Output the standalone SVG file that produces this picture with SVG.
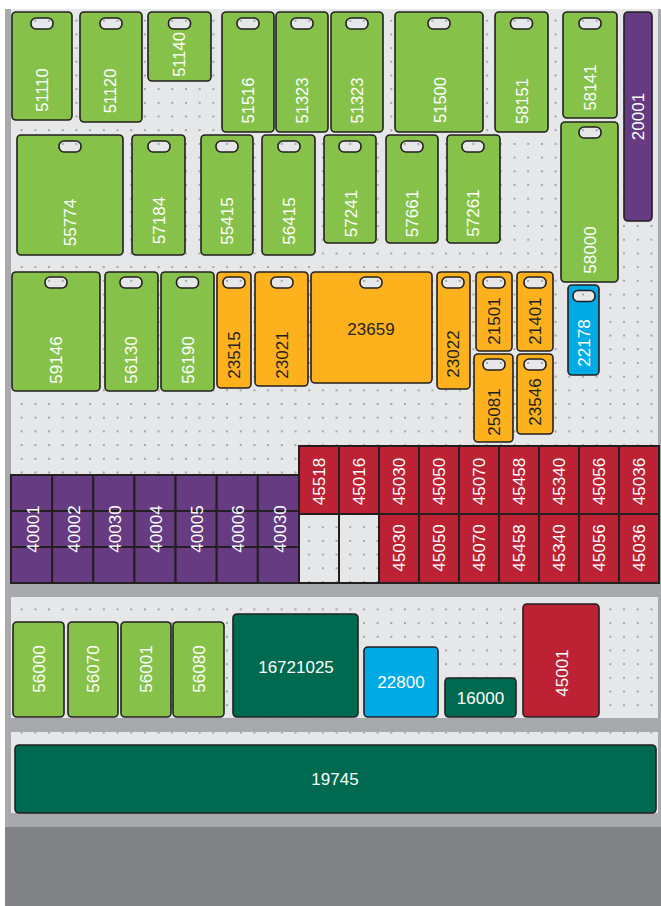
<svg xmlns="http://www.w3.org/2000/svg" width="661" height="906" viewBox="0 0 661 906">
<defs>
<pattern id="pegs" patternUnits="userSpaceOnUse" x="1.155" y="0.155" width="13.69" height="13.69">
<rect width="13.69" height="13.69" fill="#e6e7e8"/>
<circle cx="6.845" cy="6.845" r="1.1" fill="#939598"/>
</pattern>
</defs>
<style>
.b{stroke:#231f20;stroke-width:1.6}
.g{fill:#86c24a}
.o{fill:#fdb21d}
.r{fill:#bc2134}
.p{fill:#663b82}
.c{fill:#00aae4}
.d{fill:#006a50}
.h{fill:url(#pegs);stroke:#231f20;stroke-width:1.6}
.cell{stroke:#231f20;stroke-width:2}
text{font-family:"Liberation Sans",Arial,sans-serif;font-size:17px;fill:#fff;text-anchor:middle}
.s{font-size:16.5px}
.k{fill:#231f20}
</style>
<rect x="0" y="0" width="661" height="906" fill="#fff"/>
<rect x="5" y="9" width="656" height="818" fill="#a7a9ac"/>
<rect x="5" y="827" width="656" height="79" fill="#808285"/>
<rect x="11" y="9" width="647" height="574" fill="url(#pegs)"/>
<rect x="11" y="597" width="647" height="121" fill="url(#pegs)"/>
<rect x="11" y="732" width="647" height="81" fill="url(#pegs)"/>

<g id="n51110"><rect class="b g" x="12" y="12" width="60" height="108" rx="4"/><rect class="h" x="31" y="18" width="22" height="11" rx="5"/><text class="s" transform="translate(42.5,90) rotate(-90)" dy="0.36em">51110</text></g>
<g id="n51120"><rect class="b g" x="80" y="12" width="62" height="110" rx="4"/><rect class="h" x="100" y="18" width="22" height="11" rx="5"/><text class="s" transform="translate(110.5,91) rotate(-90)" dy="0.36em">51120</text></g>
<g id="n51140"><rect class="b g" x="148" y="12" width="63" height="69" rx="4"/><rect class="h" x="168.5" y="18" width="22" height="11" rx="5"/><text class="s" transform="translate(179.5,54.5) rotate(-90)" dy="0.36em">51140</text></g>
<g id="n51516"><rect class="b g" x="222" y="12" width="52" height="120" rx="4"/><rect class="h" x="237" y="18" width="22" height="11" rx="5"/><text class="s" transform="translate(248,100.5) rotate(-90)" dy="0.36em">51516</text></g>
<g id="n51323a"><rect class="b g" x="276" y="12" width="52" height="120" rx="4"/><rect class="h" x="291" y="18" width="22" height="11" rx="5"/><text class="s" transform="translate(302.5,100.5) rotate(-90)" dy="0.36em">51323</text></g>
<g id="n51323b"><rect class="b g" x="331" y="12" width="52" height="120" rx="4"/><rect class="h" x="346" y="18" width="22" height="11" rx="5"/><text class="s" transform="translate(357,100.5) rotate(-90)" dy="0.36em">51323</text></g>
<g id="n51500"><rect class="b g" x="395" y="12" width="88" height="120" rx="4"/><rect class="h" x="428" y="18" width="22" height="11" rx="5"/><text class="s" transform="translate(440,100) rotate(-90)" dy="0.36em">51500</text></g>
<g id="n58151"><rect class="b g" x="495" y="12" width="53" height="120" rx="4"/><rect class="h" x="510.5" y="18" width="22" height="11" rx="5"/><text class="s" transform="translate(522,101) rotate(-90)" dy="0.36em">58151</text></g>
<g id="n58141"><rect class="b g" x="563" y="12" width="54" height="106" rx="4"/><rect class="h" x="579" y="18" width="22" height="11" rx="5"/><text class="s" transform="translate(590,87.5) rotate(-90)" dy="0.36em">58141</text></g>
<g id="n20001"><rect class="b p" x="624" y="12" width="28" height="209" rx="4"/><text transform="translate(637.5,116.5) rotate(-90)" dy="0.36em">20001</text></g>

<g id="n55774"><rect class="b g" x="17" y="135" width="106" height="120" rx="4"/><rect class="h" x="59" y="141" width="22" height="11" rx="5"/><text transform="translate(70,222.5) rotate(-90)" dy="0.36em">55774</text></g>
<g id="n57184"><rect class="b g" x="132" y="135" width="53" height="120" rx="4"/><rect class="h" x="148" y="141" width="22" height="11" rx="5"/><text transform="translate(158.5,220.5) rotate(-90)" dy="0.36em">57184</text></g>
<g id="n55415"><rect class="b g" x="201" y="135" width="52" height="120" rx="4"/><rect class="h" x="216" y="141" width="22" height="11" rx="5"/><text transform="translate(227,221) rotate(-90)" dy="0.36em">55415</text></g>
<g id="n56415"><rect class="b g" x="262" y="135" width="53" height="120" rx="4"/><rect class="h" x="278" y="141" width="22" height="11" rx="5"/><text transform="translate(288.5,221) rotate(-90)" dy="0.36em">56415</text></g>
<g id="n57241"><rect class="b g" x="324" y="135" width="52" height="108" rx="4"/><rect class="h" x="339" y="141" width="22" height="11" rx="5"/><text transform="translate(350.5,213.5) rotate(-90)" dy="0.36em">57241</text></g>
<g id="n57661"><rect class="b g" x="386" y="135" width="52" height="108" rx="4"/><rect class="h" x="401" y="141" width="22" height="11" rx="5"/><text transform="translate(412,213.5) rotate(-90)" dy="0.36em">57661</text></g>
<g id="n57261"><rect class="b g" x="447" y="135" width="53" height="108" rx="4"/><rect class="h" x="462" y="141" width="22" height="11" rx="5"/><text transform="translate(473,213) rotate(-90)" dy="0.36em">57261</text></g>
<g id="n58000"><rect class="b g" x="561" y="122" width="57" height="160" rx="4"/><rect class="h" x="579" y="127" width="22" height="11" rx="5"/><text transform="translate(590,250) rotate(-90)" dy="0.36em">58000</text></g>

<g id="n59146"><rect class="b g" x="12" y="272" width="88" height="119" rx="4"/><rect class="h" x="45" y="277" width="22" height="11" rx="5"/><text transform="translate(56,360) rotate(-90)" dy="0.36em">59146</text></g>
<g id="n56130"><rect class="b g" x="105" y="272" width="53" height="119" rx="4"/><rect class="h" x="120" y="277" width="22" height="11" rx="5"/><text transform="translate(131,360) rotate(-90)" dy="0.36em">56130</text></g>
<g id="n56190"><rect class="b g" x="161" y="272" width="53" height="119" rx="4"/><rect class="h" x="176.5" y="277" width="22" height="11" rx="5"/><text transform="translate(187.5,360) rotate(-90)" dy="0.36em">56190</text></g>
<g id="n23515"><rect class="b o" x="217" y="272" width="34" height="116" rx="4"/><rect class="h" x="223" y="277" width="22" height="11" rx="5"/><text class="k" transform="translate(234,355) rotate(-90)" dy="0.36em">23515</text></g>
<g id="n23021"><rect class="b o" x="255" y="272" width="53" height="114" rx="4"/><rect class="h" x="271" y="277" width="22" height="11" rx="5"/><text class="k" transform="translate(282,355) rotate(-90)" dy="0.36em">23021</text></g>
<g id="n23659"><rect class="b o" x="311" y="272" width="121" height="111" rx="4"/><rect class="h" x="360" y="277" width="22" height="11" rx="5"/><text class="k" x="371" y="335">23659</text></g>
<g id="n23022"><rect class="b o" x="437" y="272" width="33" height="117" rx="4"/><rect class="h" x="442" y="277" width="22" height="11" rx="5"/><text class="k" transform="translate(453,354) rotate(-90)" dy="0.36em">23022</text></g>
<g id="n21501"><rect class="b o" x="476" y="272" width="36" height="79" rx="4"/><rect class="h" x="483" y="277" width="22" height="11" rx="5"/><text class="k" transform="translate(494,321) rotate(-90)" dy="0.36em">21501</text></g>
<g id="n21401"><rect class="b o" x="517" y="272" width="36" height="79" rx="4"/><rect class="h" x="524" y="277" width="22" height="11" rx="5"/><text class="k" transform="translate(535,321) rotate(-90)" dy="0.36em">21401</text></g>
<g id="n25081"><rect class="b o" x="474" y="354" width="39" height="88" rx="4"/><rect class="h" x="483" y="359" width="22" height="11" rx="5"/><text class="k" transform="translate(494,412) rotate(-90)" dy="0.36em">25081</text></g>
<g id="n23546"><rect class="b o" x="517" y="354" width="36" height="80" rx="4"/><rect class="h" x="524" y="359" width="22" height="11" rx="5"/><text class="k" transform="translate(535,402) rotate(-90)" dy="0.36em">23546</text></g>
<g id="n22178"><rect class="b c" x="568" y="285" width="31" height="90" rx="4"/><rect class="h" x="573" y="290.5" width="22" height="11" rx="5"/><text transform="translate(584,343) rotate(-90)" dy="0.36em">22178</text></g>

<g id="purple-grid">
<rect class="cell p" x="11" y="475" width="41.14" height="36"/><rect class="cell p" x="11" y="511" width="41.14" height="36"/><rect class="cell p" x="11" y="547" width="41.14" height="36"/>
<rect class="cell p" x="52.14" y="475" width="41.14" height="36"/><rect class="cell p" x="52.14" y="511" width="41.14" height="36"/><rect class="cell p" x="52.14" y="547" width="41.14" height="36"/>
<rect class="cell p" x="93.28" y="475" width="41.14" height="36"/><rect class="cell p" x="93.28" y="511" width="41.14" height="36"/><rect class="cell p" x="93.28" y="547" width="41.14" height="36"/>
<rect class="cell p" x="134.42" y="475" width="41.14" height="36"/><rect class="cell p" x="134.42" y="511" width="41.14" height="36"/><rect class="cell p" x="134.42" y="547" width="41.14" height="36"/>
<rect class="cell p" x="175.56" y="475" width="41.14" height="36"/><rect class="cell p" x="175.56" y="511" width="41.14" height="36"/><rect class="cell p" x="175.56" y="547" width="41.14" height="36"/>
<rect class="cell p" x="216.7" y="475" width="41.14" height="36"/><rect class="cell p" x="216.7" y="511" width="41.14" height="36"/><rect class="cell p" x="216.7" y="547" width="41.14" height="36"/>
<rect class="cell p" x="257.84" y="475" width="41.14" height="36"/><rect class="cell p" x="257.84" y="511" width="41.14" height="36"/><rect class="cell p" x="257.84" y="547" width="41.14" height="36"/>
</g>
<g id="n40001"><text transform="translate(32.6,529) rotate(-90)" dy="0.36em">40001</text></g>
<g id="n40002"><text transform="translate(73.7,529) rotate(-90)" dy="0.36em">40002</text></g>
<g id="n40030a"><text transform="translate(114.9,529) rotate(-90)" dy="0.36em">40030</text></g>
<g id="n40004"><text transform="translate(156,529) rotate(-90)" dy="0.36em">40004</text></g>
<g id="n40005"><text transform="translate(197.1,529) rotate(-90)" dy="0.36em">40005</text></g>
<g id="n40006"><text transform="translate(238.3,529) rotate(-90)" dy="0.36em">40006</text></g>
<g id="n40030b"><text transform="translate(279.4,529) rotate(-90)" dy="0.36em">40030</text></g>

<g id="red-grid-empty"><rect class="cell" fill="none" x="299" y="514" width="40" height="69"/><rect class="cell" fill="none" x="339" y="514" width="40" height="69"/></g>
<g id="n45518"><rect class="cell r" x="299" y="446" width="40" height="68"/><text transform="translate(319,481.5) rotate(-90)" dy="0.36em">45518</text></g>
<g id="n45016"><rect class="cell r" x="339" y="446" width="40" height="68"/><text transform="translate(359,481.5) rotate(-90)" dy="0.36em">45016</text></g>
<g id="n45030a"><rect class="cell r" x="379" y="446" width="40" height="68"/><text transform="translate(399,481.5) rotate(-90)" dy="0.36em">45030</text></g>
<g id="n45050a"><rect class="cell r" x="419" y="446" width="40" height="68"/><text transform="translate(439,481.5) rotate(-90)" dy="0.36em">45050</text></g>
<g id="n45070a"><rect class="cell r" x="459" y="446" width="40" height="68"/><text transform="translate(479,481.5) rotate(-90)" dy="0.36em">45070</text></g>
<g id="n45458a"><rect class="cell r" x="499" y="446" width="40" height="68"/><text transform="translate(519,481.5) rotate(-90)" dy="0.36em">45458</text></g>
<g id="n45340a"><rect class="cell r" x="539" y="446" width="40" height="68"/><text transform="translate(559,481.5) rotate(-90)" dy="0.36em">45340</text></g>
<g id="n45056a"><rect class="cell r" x="579" y="446" width="40" height="68"/><text transform="translate(599,481.5) rotate(-90)" dy="0.36em">45056</text></g>
<g id="n45036a"><rect class="cell r" x="619" y="446" width="40" height="68"/><text transform="translate(639,481.5) rotate(-90)" dy="0.36em">45036</text></g>
<g id="n45030b"><rect class="cell r" x="379" y="514" width="40" height="69"/><text transform="translate(399,548) rotate(-90)" dy="0.36em">45030</text></g>
<g id="n45050b"><rect class="cell r" x="419" y="514" width="40" height="69"/><text transform="translate(439,548) rotate(-90)" dy="0.36em">45050</text></g>
<g id="n45070b"><rect class="cell r" x="459" y="514" width="40" height="69"/><text transform="translate(479,548) rotate(-90)" dy="0.36em">45070</text></g>
<g id="n45458b"><rect class="cell r" x="499" y="514" width="40" height="69"/><text transform="translate(519,548) rotate(-90)" dy="0.36em">45458</text></g>
<g id="n45340b"><rect class="cell r" x="539" y="514" width="40" height="69"/><text transform="translate(559,548) rotate(-90)" dy="0.36em">45340</text></g>
<g id="n45056b"><rect class="cell r" x="579" y="514" width="40" height="69"/><text transform="translate(599,548) rotate(-90)" dy="0.36em">45056</text></g>
<g id="n45036b"><rect class="cell r" x="619" y="514" width="40" height="69"/><text transform="translate(639,548) rotate(-90)" dy="0.36em">45036</text></g>

<g id="n56000"><rect class="b g" x="13" y="622" width="51" height="95" rx="4"/><text transform="translate(38.5,669) rotate(-90)" dy="0.36em">56000</text></g>
<g id="n56070"><rect class="b g" x="68" y="622" width="50" height="95" rx="4"/><text transform="translate(93,669) rotate(-90)" dy="0.36em">56070</text></g>
<g id="n56001"><rect class="b g" x="121" y="622" width="50" height="95" rx="4"/><text transform="translate(146,669) rotate(-90)" dy="0.36em">56001</text></g>
<g id="n56080"><rect class="b g" x="173" y="622" width="51" height="95" rx="4"/><text transform="translate(198.5,669) rotate(-90)" dy="0.36em">56080</text></g>
<g id="n16721025"><rect class="b d" x="233" y="614" width="125" height="103" rx="4"/><text x="296" y="673">16721025</text></g>
<g id="n22800"><rect class="b c" x="364" y="647" width="74" height="70" rx="4"/><text x="401" y="687.5">22800</text></g>
<g id="n16000"><rect class="b d" x="445" y="678" width="71" height="39" rx="4"/><text x="480.5" y="704">16000</text></g>
<g id="n45001"><rect class="b r" x="523" y="604" width="76" height="113" rx="4"/><text transform="translate(562,673) rotate(-90)" dy="0.36em">45001</text></g>

<g id="n19745"><rect class="b d" x="15" y="745" width="641" height="68" rx="4"/><text x="335" y="785">19745</text></g>

<g id="connectors"></g>
</svg>
